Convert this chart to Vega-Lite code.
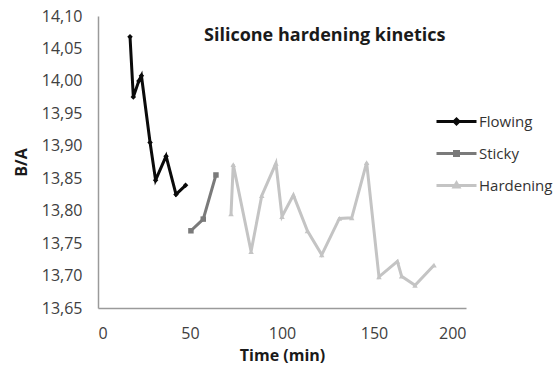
{
  "$schema": "https://vega.github.io/schema/vega-lite/v6.json",
  "width": 368,
  "height": 292,
  "autosize": "none",
  "padding": {"left": 98, "top": 16, "right": 90, "bottom": 64},
  "background": "white",
  "config": {"view": {"stroke": null}, "font": "Open Sans"},
  "title": {
    "text": "Silicone hardening kinetics",
    "fontSize": 18,
    "fontWeight": "bold",
    "font": "Open Sans",
    "color": "#1a1a1a",
    "anchor": "start",
    "frame": "group",
    "dx": 106,
    "dy": 41
  },
  "data": {
    "values": [
      {"series": "Flowing", "time": 17.4, "ba": 14.068},
      {"series": "Flowing", "time": 19.2, "ba": 13.975},
      {"series": "Flowing", "time": 22.2, "ba": 14.0},
      {"series": "Flowing", "time": 23.6, "ba": 14.008},
      {"series": "Flowing", "time": 28.3, "ba": 13.905},
      {"series": "Flowing", "time": 31.3, "ba": 13.847},
      {"series": "Flowing", "time": 37.0, "ba": 13.884},
      {"series": "Flowing", "time": 42.4, "ba": 13.825},
      {"series": "Flowing", "time": 47.6, "ba": 13.839},
      {"series": "Sticky", "time": 50.5, "ba": 13.769},
      {"series": "Sticky", "time": 57.2, "ba": 13.787},
      {"series": "Sticky", "time": 64.1, "ba": 13.855},
      {"series": "Hardening", "time": 72.3, "ba": 13.795},
      {"series": "Hardening", "time": 73.5, "ba": 13.871},
      {"series": "Hardening", "time": 83.2, "ba": 13.737},
      {"series": "Hardening", "time": 89.0, "ba": 13.823},
      {"series": "Hardening", "time": 96.7, "ba": 13.873},
      {"series": "Hardening", "time": 100.0, "ba": 13.791},
      {"series": "Hardening", "time": 106.2, "ba": 13.824},
      {"series": "Hardening", "time": 113.8, "ba": 13.769},
      {"series": "Hardening", "time": 121.6, "ba": 13.732},
      {"series": "Hardening", "time": 131.2, "ba": 13.788},
      {"series": "Hardening", "time": 137.9, "ba": 13.789},
      {"series": "Hardening", "time": 146.0, "ba": 13.874},
      {"series": "Hardening", "time": 152.7, "ba": 13.698},
      {"series": "Hardening", "time": 162.7, "ba": 13.722},
      {"series": "Hardening", "time": 165.0, "ba": 13.699},
      {"series": "Hardening", "time": 172.3, "ba": 13.685},
      {"series": "Hardening", "time": 182.6, "ba": 13.716}
    ]
  },
  "encoding": {
    "x": {
      "field": "time",
      "type": "quantitative",
      "scale": {"domain": [0, 200], "nice": false},
      "axis": {
        "title": "Time (min)",
        "values": [0, 50, 100, 150, 200],
        "grid": false,
        "ticks": false,
        "domainColor": "#9a9a9a",
        "domainWidth": 1.5,
        "labelFontSize": 16,
        "labelColor": "#404040",
        "labelPadding": 17,
        "titleFontSize": 16,
        "titleFontWeight": "bold",
        "titleColor": "#1a1a1a",
        "titlePadding": 6
      }
    },
    "y": {
      "field": "ba",
      "type": "quantitative",
      "scale": {"domain": [13.65, 14.1], "nice": false, "zero": false},
      "axis": {
        "title": "B/A",
        "values": [13.65, 13.7, 13.75, 13.8, 13.85, 13.9, 13.95, 14.0, 14.05, 14.1],
        "labelExpr": "replace(format(datum.value, '.2f'), '.', ',')",
        "grid": false,
        "ticks": false,
        "domainColor": "#9a9a9a",
        "domainWidth": 1.5,
        "labelFontSize": 16,
        "labelColor": "#404040",
        "labelPadding": 16,
        "titleFontSize": 16,
        "titleFontWeight": "bold",
        "titleColor": "#1a1a1a",
        "titlePadding": 12
      }
    },
    "color": {
      "field": "series",
      "type": "nominal",
      "scale": {"domain": ["Flowing", "Sticky", "Hardening"], "range": ["#0a0a0a", "#7a7a7a", "#c4c4c4"]},
      "legend": {
        "title": null,
        "orient": "none",
        "legendX": 337,
        "legendY": 84,
        "symbolSize": 1600,
        "symbolStrokeWidth": 3,
        "symbolType": "M-1,0L1,0M0,-0.12L0.12,0L0,0.12L-0.12,0Z",
        "labelFontSize": 15,
        "labelColor": "#333333",
        "labelOffset": 1,
        "rowPadding": 2,
        "encode": {
          "symbols": {
            "update": {
              "shape": {"signal": "datum.value === 'Flowing' ? 'M-1,0L1,0M0,-0.12L0.12,0L0,0.12L-0.12,0Z' : datum.value === 'Sticky' ? 'M-1,0L1,0M-0.1,-0.1L0.1,-0.1L0.1,0.1L-0.1,0.1Z' : 'M-1,0L1,0M0,-0.13L0.12,0.08L-0.12,0.08Z'"},
              "fill": {"scale": "color", "field": "value"}
            }
          }
        }
      }
    }
  },
  "layer": [
    {"mark": {"type": "line", "strokeWidth": 3}},
    {
      "transform": [{"filter": "datum.series === 'Flowing'"}],
      "mark": {"type": "point", "filled": true, "size": 30, "opacity": 1, "shape": "diamond"}
    },
    {
      "transform": [{"filter": "datum.series === 'Sticky'"}],
      "mark": {"type": "point", "filled": true, "size": 30, "opacity": 1, "shape": "square"}
    },
    {
      "transform": [{"filter": "datum.series === 'Hardening'"}],
      "mark": {"type": "point", "filled": true, "size": 30, "opacity": 1, "shape": "triangle-up"}
    }
  ]
}
